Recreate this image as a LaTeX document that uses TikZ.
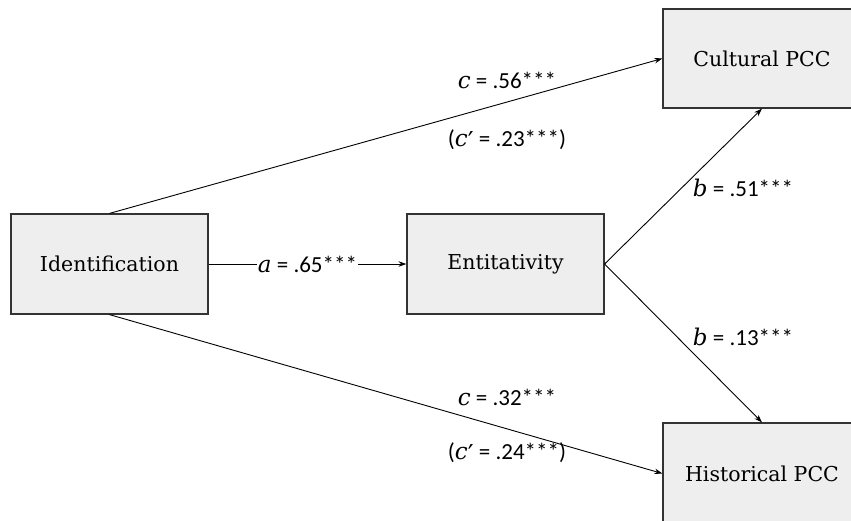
\documentclass[tikz,border=0pt]{standalone}
\usepackage{fontspec}
\setmainfont{DejaVu Serif}
\newfontfamily\labfont{Carlito}
\newfontfamily\primefont{DejaVu Sans}
\usetikzlibrary{arrows.meta}
\definecolor{boxfill}{HTML}{EEEEEE}
\definecolor{boxline}{HTML}{333333}
\tikzset{
  varbox/.style={draw=boxline, line width=1.2pt, fill=boxfill, minimum width=197pt, minimum height=100pt, inner sep=0pt, font=\fontsize{20.5}{24}\selectfont},
  path/.style={line width=0.9pt, -{Stealth[length=8pt,width=5.5pt]}},
  lab/.style={font=\labfont\fontsize{23}{27}\selectfont, inner sep=1pt},
}
\newcommand{\vl}[1]{{\fontspec{DejaVu Serif}\itshape #1}}
\newcommand{\prm}{\raisebox{-4pt}{\primefont\fontsize{26}{28}\selectfont ′}}
\begin{document}
\begin{tikzpicture}[x=1pt,y=-1pt]
\useasboundingbox (0,0) rectangle (851,520);
\clip (0,0) rectangle (851,520);
\node[varbox] (ident) at (109.5,264) {Identification};
\node[varbox] (ent) at (505.5,264) {Entitativity};
\node[varbox, minimum width=198pt, minimum height=99pt] (cult) at (762,58.5) {Cultural PCC};
\node[varbox, minimum width=198pt, minimum height=101pt] (hist) at (762,473.5) {Historical PCC};
\draw[path] (ident.east) -- node[lab, fill=white] {\vl{a} = .65***} (ent.west);
\draw[path] (ident.north) -- (cult.west);
\draw[path] (ident.south) -- (hist.west);
\draw[path] (ent.east) -- (cult.south);
\draw[path] (ent.east) -- (hist.north);
\node[lab] (c56) at (507,80) {\vl{c} = .56***};
\node[lab] (c23) at (507,140) {(\vl{c}\prm{} = .23***)};
\node[lab] (b51) at (743,188) {\vl{b} = .51***};
\node[lab] (b13) at (743,337) {\vl{b} = .13***};
\node[lab] (c32) at (507,397) {\vl{c} = .32***};
\node[lab] (c24) at (507,453) {(\vl{c}\prm{} = .24***)};
\end{tikzpicture}
\end{document}
